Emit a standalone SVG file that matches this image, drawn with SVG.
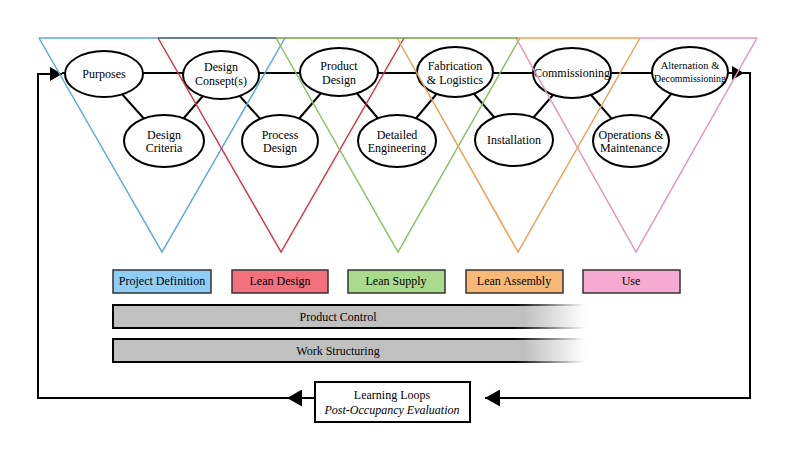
<svg xmlns="http://www.w3.org/2000/svg" width="800" height="473" viewBox="0 0 800 473">
<style>
.v{fill:none;stroke-width:1.5}
.ell{fill:#fff;stroke:#000;stroke-width:2}
.t{font-family:"Liberation Serif","DejaVu Serif",serif;font-size:12px;fill:#000;text-anchor:middle}
.s{font-size:10.5px}
.c{stroke:#000;stroke-width:2;fill:none}
.ph{stroke:#333;stroke-width:1.5}
</style>
<defs>
<marker id="ah" viewBox="0 0 12 14" refX="12" refY="7" markerWidth="12" markerHeight="14" markerUnits="userSpaceOnUse" orient="auto"><path d="M0,0L12,7L0,14z" fill="#000"/></marker>
<marker id="ahb" viewBox="0 0 15 17" refX="15" refY="8.5" markerWidth="15" markerHeight="17" markerUnits="userSpaceOnUse" orient="auto"><path d="M0,0L15,8.5L0,17z" fill="#000"/></marker>
<linearGradient id="gf" x1="0" y1="0" x2="1" y2="0"><stop offset="0" stop-color="#c0c0c0"/><stop offset="0.87" stop-color="#c0c0c0"/><stop offset="1" stop-color="#fff"/></linearGradient>
<linearGradient id="gs" x1="0" y1="0" x2="1" y2="0"><stop offset="0" stop-color="#000"/><stop offset="0.85" stop-color="#000"/><stop offset="1" stop-color="#fff"/></linearGradient>
</defs>
<rect width="800" height="473" fill="#fff"/>

<g id="connectors">
<path class="c" d="M62,73H733"/>
<path class="c" d="M104,74L164,141M221,75L164,141M221,75L280,141M339,72L280,141M339,72L397,141M455,72L397,141M455,72L514,140M572,73L514,140M572,73L631,141M690,72L631,141"/>
<path class="c" d="M728,73H744" marker-end="url(#ah)"/>
<path class="c" d="M743,73H750V398H485" marker-end="url(#ahb)"/>
<path class="c" d="M315,398H287" marker-end="url(#ahb)"/>
<path class="c" d="M288,398H38V74H62" marker-end="url(#ah)"/>
</g>

<g id="purposes"><ellipse class="ell" cx="104" cy="74" rx="39" ry="23"/><text class="t" x="104" y="78">Purposes</text></g>
<g id="design-consept"><ellipse class="ell" cx="221" cy="75" rx="38" ry="24"/><text class="t" x="221" y="71">Design</text><text class="t" x="221" y="85">Consept(s)</text></g>
<g id="design-criteria"><ellipse class="ell" cx="164" cy="141" rx="40" ry="26"/><text class="t" x="164" y="139">Design</text><text class="t" x="164" y="152">Criteria</text></g>
<g id="process-design"><ellipse class="ell" cx="280" cy="141" rx="38" ry="26"/><text class="t" x="280" y="139">Process</text><text class="t" x="280" y="152">Design</text></g>
<g id="product-design"><ellipse class="ell" cx="339" cy="72" rx="39" ry="24"/><text class="t" x="339" y="70">Product</text><text class="t" x="339" y="84">Design</text></g>
<g id="detailed-engineering"><ellipse class="ell" cx="397" cy="141" rx="39" ry="26"/><text class="t" x="397" y="139">Detailed</text><text class="t" x="397" y="152">Engineering</text></g>
<g id="fabrication"><ellipse class="ell" cx="455" cy="72" rx="38" ry="25"/><text class="t" x="455" y="70">Fabrication</text><text class="t" x="455" y="84">&amp; Logistics</text></g>
<g id="installation"><ellipse class="ell" cx="514" cy="140" rx="39" ry="26"/><text class="t" x="514" y="144">Installation</text></g>
<g id="commissioning"><ellipse class="ell" cx="572" cy="73" rx="39" ry="25"/><text class="t" x="572" y="77">Commissioning</text></g>
<g id="operations"><ellipse class="ell" cx="631" cy="141" rx="38" ry="26"/><text class="t" x="631" y="139">Operations &amp;</text><text class="t" x="631" y="152">Maintenance</text></g>
<g id="alternation"><ellipse class="ell" cx="690" cy="72" rx="38" ry="25"/><text class="t s" x="690" y="69">Alternation &amp;</text><text class="t s" x="690" y="82" textLength="72" lengthAdjust="spacingAndGlyphs">Decommissioning</text></g>

<g id="triangles">
<path class="v" stroke="#5aa9dd" d="M39,38L162,252L285,38"/>
<path class="v" stroke="#d9334a" d="M158,38L281,252L404,38"/>
<path class="v" stroke="#8cc063" d="M276,38L398,252L520,38"/>
<path class="v" stroke="#f0a050" d="M397,38L518,252L640,38"/>
<path class="v" stroke="#e394bd" d="M516,38L636,252L757,38"/>
<path class="v" stroke="#5aa9dd" d="M39,38H158"/>
<path class="v" stroke="#34508e" d="M158,38H276"/>
<path class="v" stroke="#76a03a" d="M276,38H518"/>
<path class="v" stroke="#f0a050" d="M518,38H640"/>
<path class="v" stroke="#e394bd" d="M640,38H757"/>
</g>

<g id="project-definition"><rect class="ph" x="113" y="270" width="98" height="23" fill="#8fcdf5"/><text class="t" x="162" y="285" font-size="11.5">Project Definition</text></g>
<g id="lean-design"><rect class="ph" x="232" y="270" width="96" height="23" fill="#f2717d"/><text class="t" x="280" y="285">Lean Design</text></g>
<g id="lean-supply"><rect class="ph" x="348" y="270" width="97" height="23" fill="#aadb8c"/><text class="t" x="396" y="285">Lean Supply</text></g>
<g id="lean-assembly"><rect class="ph" x="466" y="270" width="97" height="23" fill="#f8b878"/><text class="t" x="514" y="285">Lean Assembly</text></g>
<g id="use"><rect class="ph" x="583" y="270" width="97" height="23" fill="#f7aad0"/><text class="t" x="631" y="285">Use</text></g>

<g id="product-control"><rect x="113" y="305" width="472" height="23" fill="url(#gf)" stroke="url(#gs)" stroke-width="2"/><text class="t" x="338" y="321">Product Control</text></g>
<g id="work-structuring"><rect x="113" y="339" width="472" height="23" fill="url(#gf)" stroke="url(#gs)" stroke-width="2"/><text class="t" x="338" y="355">Work Structuring</text></g>

<g id="learning-loops"><rect x="315" y="382" width="155" height="40" fill="#fff" stroke="#000" stroke-width="2"/><text class="t" x="392" y="399" font-size="11.5">Learning Loops</text><text class="t" x="392" y="414" font-size="11" font-style="italic">Post-Occupancy Evaluation</text></g>
</svg>
